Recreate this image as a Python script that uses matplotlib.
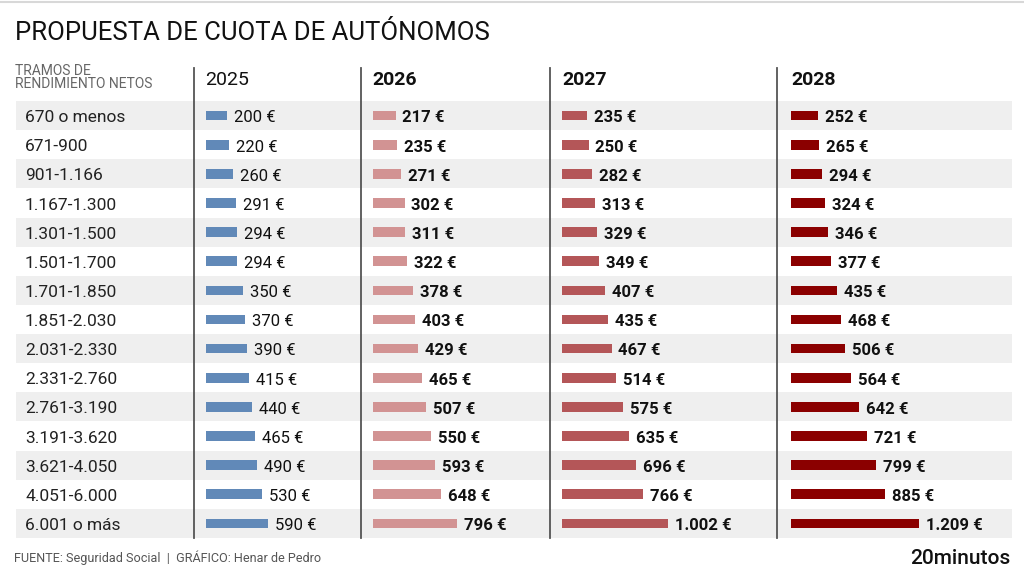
import matplotlib
matplotlib.use("Agg")
import matplotlib.pyplot as plt

plt.rcParams['font.family'] = ['Roboto', 'DejaVu Sans']

# Data
tramos = ["670 o menos", "671-900", "901-1.166", "1.167-1.300", "1.301-1.500",
          "1.501-1.700", "1.701-1.850", "1.851-2.030", "2.031-2.330", "2.331-2.760",
          "2.761-3.190", "3.191-3.620", "3.621-4.050", "4.051-6.000", "6.001 o más"]
years = ["2025", "2026", "2027", "2028"]
cuota_2025 = [200, 220, 260, 291, 294, 294, 350, 370, 390, 415, 440, 465, 490, 530, 590]
cuota_2026 = [217, 235, 271, 302, 311, 322, 378, 403, 429, 465, 507, 550, 593, 648, 796]
cuota_2027 = [235, 250, 282, 313, 329, 349, 407, 435, 467, 514, 575, 635, 696, 766, 1002]
cuota_2028 = [252, 265, 294, 324, 346, 377, 435, 468, 506, 564, 642, 721, 799, 885, 1209]
series = [cuota_2025, cuota_2026, cuota_2027, cuota_2028]
colors = ["#6189b8", "#d29393", "#b45658", "#8b0000"]

W, H = 1024, 576
fig = plt.figure(figsize=(W / 100, H / 100), dpi=100)
fig.patch.set_facecolor("white")

n = len(tramos)
row_top, row_bot = 101, 538
row_h = (row_bot - row_top) / n
head_top = 68
y_top_lim = -0.5 - (row_top - head_top) / row_h


def fx(px):
    return px / W


def fy(py):
    return 1 - py / H


# thin line at the very top
fig.add_artist(plt.Line2D([0, 1], [fy(2), fy(2)], color="#d8d8d8", lw=1.5))

fig.text(fx(15), fy(33), "PROPUESTA DE CUOTA DE AUTÓNOMOS", fontsize=18.5,
         color="#111111", va="center", ha="left")

# background stripes + row labels
ax_bg = fig.add_axes([fx(16), fy(row_bot), fx(1012 - 16), fy(row_top) - fy(row_bot)])
ax_bg.set_xlim(0, 1)
ax_bg.set_ylim(n - 0.5, -0.5)
ax_bg.axis("off")
for i, name in enumerate(tramos):
    if i % 2 == 0:
        ax_bg.axhspan(i - 0.5, i + 0.5, color="#efefef", lw=0)
    ax_bg.text(9 / 996, i + 0.07, name, fontsize=12.5, color="#222222", va="center", ha="left")

fig.text(fx(15), fy(64), "TRAMOS DE\nRENDIMIENTO NETOS", fontsize=10, color="#666666",
         va="top", ha="left", linespacing=0.88)

# year columns
dividers = [194, 361, 550, 777, 1012]
bar_start = [205.5, 372.5, 562, 791]
scale = 0.106  # px per euro
for k, year in enumerate(years):
    left, right = dividers[k], dividers[k + 1]
    ax = fig.add_axes([fx(left), fy(row_bot), fx(right - left), fy(head_top) - fy(row_bot)])
    ax.patch.set_alpha(0)
    off = bar_start[k] - left
    ax.set_xlim(-off / scale, (right - left - off) / scale)
    ax.set_ylim(n - 0.5, y_top_lim)
    for s in ["top", "right", "bottom"]:
        ax.spines[s].set_visible(False)
    ax.spines["left"].set_color("#555555")
    ax.spines["left"].set_linewidth(1.3)
    ax.set_xticks([])
    ax.set_yticks([])
    vals = series[k]
    ax.barh(range(n), vals, height=0.33, color=colors[k], zorder=3)
    weight = "normal" if k == 0 else "bold"
    for i, v in enumerate(vals):
        label = f"{v:,}".replace(",", ".") + " €"
        ax.annotate(label, (v, i + 0.08), xytext=(5, 0), textcoords="offset points",
                    fontsize=12, fontweight=weight, color="#111111", va="center", ha="left")
    y_head = (80 - row_top) / row_h - 0.5
    ax.text(0, y_head, year, fontsize=14, fontweight=weight, color="#111111",
            va="center", ha="left")

fig.text(fx(14), fy(558), "FUENTE: Seguridad Social  |  GRÁFICO: Henar de Pedro",
         fontsize=9.1, color="#555555", va="center", ha="left")
fig.text(fx(1010), fy(558), "20minutos", fontsize=15, fontweight="medium",
         color="#111111", va="center", ha="right")

fig.savefig("out.png", dpi=100, facecolor="white")
